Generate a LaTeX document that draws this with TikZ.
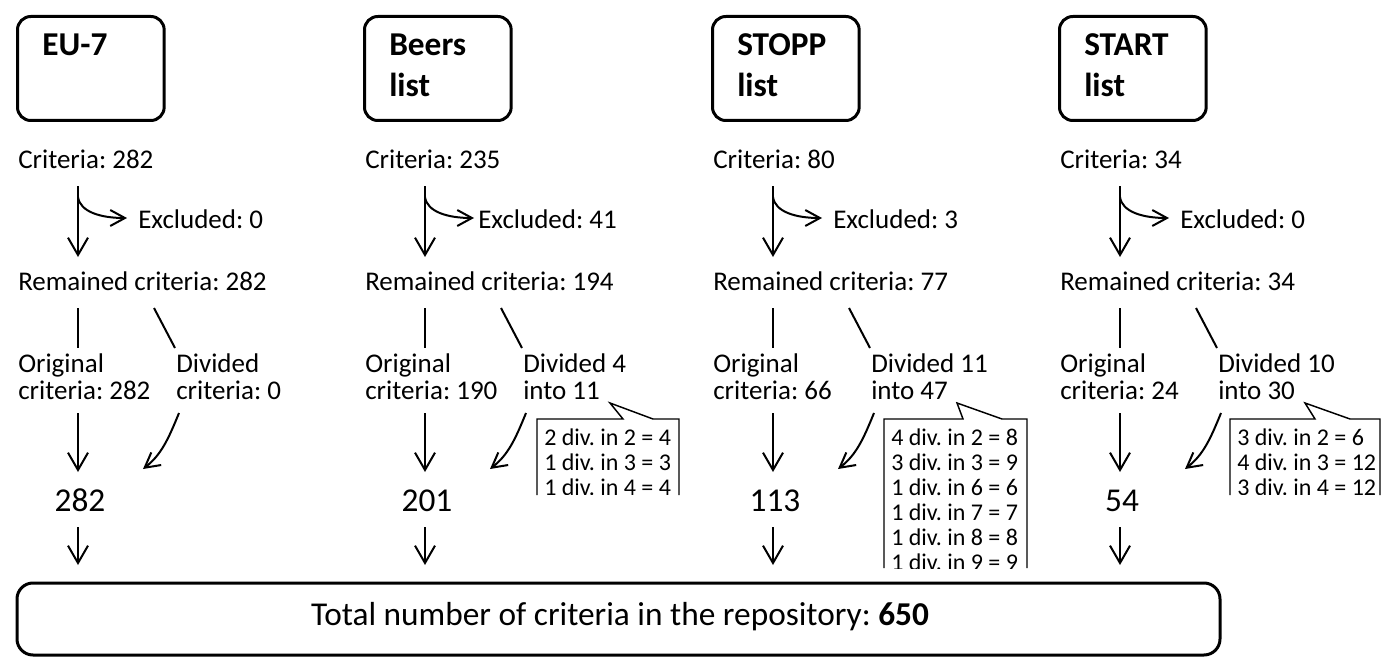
\documentclass[tikz,border=0pt]{standalone}
\usepackage{fontspec}
\setmainfont{Carlito}
\usetikzlibrary{arrows.meta}
\frenchspacing
\begin{document}
\begin{tikzpicture}[x=0.75pt,y=-0.75pt,
  lbl/.style={anchor=base west, inner sep=0pt, font=\fontsize{20.25}{24}\selectfont},
  ttl/.style={anchor=base west, inner sep=0pt, font=\fontsize{25}{30}\selectfont\bfseries},
  num/.style={anchor=base, inner sep=0pt, font=\fontsize{25}{30}\selectfont},
  note/.style={anchor=base west, inner sep=0pt, font=\fontsize{18}{19}\selectfont},
  srcbox/.style={draw, line width=2.25pt, rounded corners=10pt, anchor=north west,
                 minimum width=110pt, minimum height=78pt, inner sep=0pt},
  flow/.style={line width=1.5pt, -{Straight Barb[length=13pt,width=15pt]}},
  side/.style={line width=1.5pt, -{Straight Barb[length=11pt,width=12pt]}},
  link/.style={line width=1.5pt},
  callout/.style={line width=1.1pt, line join=miter},
]
\useasboundingbox (0,0) rectangle (1389,660);

% one column per source list
\foreach \x/\id/\ta/\tb/\c/\e/\ex/\r/\o/\da/\db/\f in {
   16/eu/EU-7//282/0/122/282/282/Divided/criteria: 0/282,
  363/beers/Beers/list/235/41/115/194/190/Divided 4/into 11/201,
  711/stopp/STOPP/list/80/3/122/77/66/Divided 11/into 47/113,
 1058/start/START/list/34/0/122/34/24/Divided 10/into 30/54}{
  \node[srcbox] (\id-box) at (\x,15) {};
  \node[ttl] (\id-t1) at ({\x+26},56) {\ta};
  \node[ttl] (\id-t2) at ({\x+26},97) {\tb};
  \node[lbl] (\id-crit) at ({\x+2},168) {Criteria: \c};
  \node[lbl] (\id-excl) at ({\x+\ex},228) {Excluded: \e};
  \node[lbl] (\id-rem) at ({\x+2},290) {Remained criteria: \r};
  \node[lbl] (\id-o1) at ({\x+2},372) {Original};
  \node[lbl] (\id-o2) at ({\x+2},399) {criteria: \o};
  \node[lbl] (\id-d1) at ({\x+160},372) {\da};
  \node[lbl] (\id-d2) at ({\x+160},399) {\db};
  \node[num] (\id-sum) at ({\x+64},511) {\f};

  \coordinate (\id-a0) at ({\x+62},186);
  \coordinate (\id-a1) at ({\x+62},257);
  \coordinate (\id-b0) at ({\x+62},197);
  \coordinate (\id-b1) at ({\x+111},218);
  \coordinate (\id-c0) at ({\x+62},308);
  \coordinate (\id-c1) at ({\x+62},348);
  \coordinate (\id-s0) at ({\x+138},308);
  \coordinate (\id-s1) at ({\x+159},348);
  \coordinate (\id-e0) at ({\x+62},413);
  \coordinate (\id-e1) at ({\x+62},472);
  \coordinate (\id-f0) at ({\x+163},413);
  \coordinate (\id-f1) at ({\x+127},469);
  \coordinate (\id-g0) at ({\x+62},527);
  \coordinate (\id-g1) at ({\x+62},565);

  \draw[flow] (\id-a0) -- (\id-a1);
  \draw[side] (\id-b0) .. controls ({\x+64},212) and ({\x+85},218) .. (\id-b1);
  \draw[link] (\id-c0) -- (\id-c1);
  \draw[link] (\id-s0) -- (\id-s1);
  \draw[flow] (\id-e0) -- (\id-e1);
  \draw[side] (\id-f0) .. controls ({\x+152},440) and ({\x+145},455) .. (\id-f1);
  \draw[flow] (\id-g0) -- (\id-g1);
}

% breakdown of divided criteria
\draw[callout] (537,495) -- (537,419) -- (623,419) -- (610,403) -- (653,419) -- (679,419) -- (679,495);
\begin{scope}
  \clip (537,400) rectangle (679,494);
  \foreach \t [count=\i from 0] in {2 div. in 2 = 4, 1 div. in 3 = 3, 1 div. in 4 = 4}
    \node[note] (beers-n\i) at (544,{445+25*\i}) {\t};
\end{scope}

\draw[callout] (884,568) -- (884,419) -- (963,419) -- (957,403) -- (1002,419) -- (1027,419) -- (1027,568);
\begin{scope}
  \clip (884,400) rectangle (1027,568);
  \foreach \t [count=\i from 0] in {4 div. in 2 = 8, 3 div. in 3 = 9, 1 div. in 6 = 6,
                                    1 div. in 7 = 7, 1 div. in 8 = 8, 1 div. in 9 = 9}
    \node[note] (stopp-n\i) at (891,{445+25*\i}) {\t};
\end{scope}

\draw[callout] (1230,495) -- (1230,419) -- (1315,419) -- (1305,403) -- (1350,419) -- (1380,419) -- (1380,495);
\begin{scope}
  \clip (1230,400) rectangle (1380,494);
  \foreach \t [count=\i from 0] in {3 div. in 2 = 6, 4 div. in 3 = 12, 3 div. in 4 = 12}
    \node[note] (start-n\i) at (1237,{445+25*\i}) {\t};
\end{scope}

% repository total
\draw[line width=2.25pt, rounded corners=12pt] (17,583) rectangle (1220,655);
\node[anchor=base, inner sep=0pt, font=\fontsize{25}{30}\selectfont] (total) at (620,625)
  {Total number of criteria in the repository: \textbf{650}};
\end{tikzpicture}
\end{document}
